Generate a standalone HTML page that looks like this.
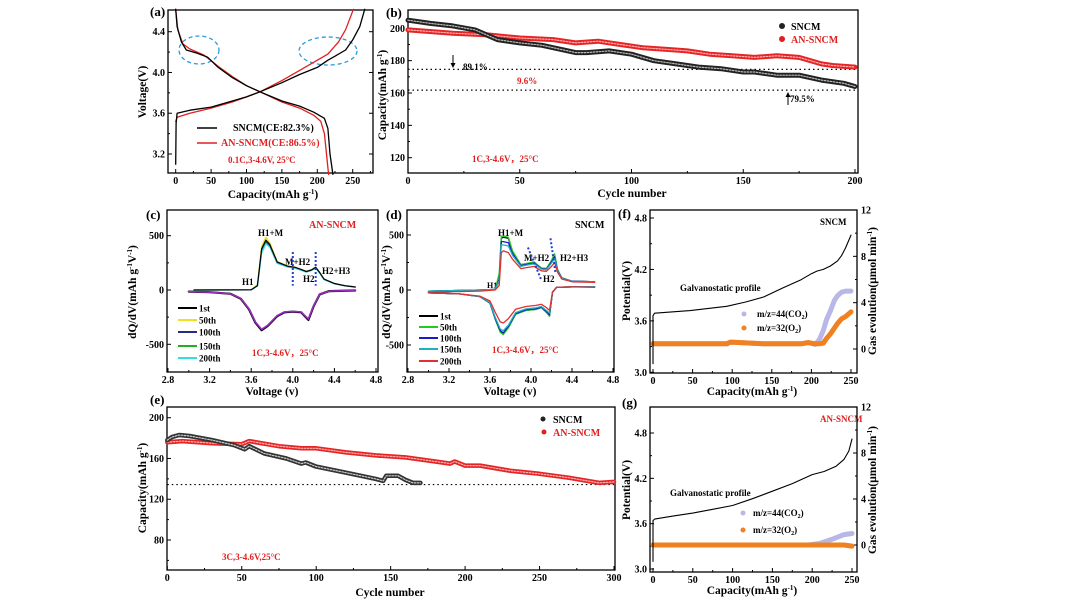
<!DOCTYPE html>
<html><head><meta charset="utf-8"><style>
body{margin:0;background:#fff;}
svg{display:block;font-family:"Liberation Serif",serif;font-weight:bold;}
.t{font-size:10px;}
.ti{font-size:11.5px;}
.lab{font-size:13px;}
</style></head><body>
<svg id="fig" width="1080" height="608" viewBox="0 0 1080 608" xmlns="http://www.w3.org/2000/svg">
<rect width="1080" height="608" fill="#fff"/>
<g>
<text x="150" y="16" class="lab">(a)</text>
<text transform="translate(146,92) rotate(-90)" text-anchor="middle" class="ti">Voltage(V)</text>
<text x="273" y="198" text-anchor="middle" class="ti">Capacity(mAh g<tspan dy="-4" font-size="7">-1</tspan><tspan dy="4">)</tspan></text>
<line x1="197" y1="128" x2="217" y2="128" stroke="#000" stroke-width="1.5"/>
<text x="233" y="131" class="t">SNCM(CE:82.3%)</text>
<line x1="197" y1="143" x2="217" y2="143" stroke="#e02020" stroke-width="1.5"/>
<text x="221" y="146" class="t" fill="#e02020">AN-SNCM(CE:86.5%)</text>
<text x="228" y="163" font-size="9" fill="#e02020">0.1C,3-4.6V, 25°C</text>
<ellipse cx="199" cy="50" rx="20" ry="14" fill="none" stroke="#2a9ad8" stroke-width="1.3" stroke-dasharray="4,3"/>
<ellipse cx="328" cy="51" rx="29" ry="14" fill="none" stroke="#2a9ad8" stroke-width="1.3" stroke-dasharray="4,3"/>
</g>
<g>
<text x="386" y="17" class="lab">(b)</text>
<text transform="translate(386,95) rotate(-90)" text-anchor="middle" class="ti">Capacity(mAh g<tspan dy="-4" font-size="7">-1</tspan><tspan dy="4">)</tspan></text>
<text x="632" y="197" text-anchor="middle" class="ti">Cycle number</text>
<circle cx="782" cy="26" r="3" fill="#222"/>
<text x="791" y="30" class="t">SNCM</text>
<circle cx="782" cy="39" r="3" fill="#e02020"/>
<text x="791" y="43" class="t" fill="#e02020">AN-SNCM</text>
<line x1="453" y1="55" x2="453" y2="67" stroke="#000"/>
<path d="M450.5,63 L453,68 L455.5,63Z" fill="#000"/>
<text x="463" y="70" font-size="9">89.1%</text>
<text x="517" y="84" font-size="9" fill="#e02020">9.6%</text>
<line x1="788" y1="93" x2="788" y2="105" stroke="#000"/>
<path d="M785.5,97 L788,92 L790.5,97Z" fill="#000"/>
<text x="790" y="102" font-size="9">79.5%</text>
<text x="472" y="162" font-size="9" fill="#e02020">1C,3-4.6V，25°C</text>
</g>
<g>
<text x="146" y="219" class="lab">(c)</text>
<text transform="translate(136,292) rotate(-90)" text-anchor="middle" class="ti">dQ/dV(mAh g<tspan dy="-4" font-size="7">-1</tspan><tspan dy="4">V</tspan><tspan dy="-4" font-size="7">-1</tspan><tspan dy="4">)</tspan></text>
<text x="272" y="395" text-anchor="middle" class="ti">Voltage (v)</text>
<text x="309" y="228" class="t" fill="#e02020">AN-SNCM</text>
<text x="258" y="236" font-size="9">H1+M</text>
<text x="285" y="265" font-size="9">M+H2</text>
<text x="303" y="282" font-size="9">H2</text>
<text x="322" y="274" font-size="9">H2+H3</text>
<text x="242" y="285" font-size="9">H1</text>
<text x="252" y="356" font-size="9" fill="#e02020">1C,3-4.6V，25°C</text>
</g>
<g>
<text x="386" y="219" class="lab">(d)</text>
<text transform="translate(390,292) rotate(-90)" text-anchor="middle" class="ti">dQ/dV(mAh g<tspan dy="-4" font-size="7">-1</tspan><tspan dy="4">V</tspan><tspan dy="-4" font-size="7">-1</tspan><tspan dy="4">)</tspan></text>
<text x="510" y="395" text-anchor="middle" class="ti">Voltage (v)</text>
<text x="575" y="228" class="t">SNCM</text>
<text x="498" y="236" font-size="9">H1+M</text>
<text x="524" y="261" font-size="9">M+H2</text>
<text x="560" y="261" font-size="9">H2+H3</text>
<text x="543" y="282" font-size="9">H2</text>
<text x="487" y="288" font-size="8">H1</text>
<text x="492" y="353" font-size="9" fill="#e02020">1C,3-4.6V，25°C</text>
</g>
<g>
<text x="150" y="404" class="lab">(e)</text>
<text transform="translate(146,488) rotate(-90)" text-anchor="middle" class="ti">Capacity(mAh g<tspan dy="-4" font-size="7">-1</tspan><tspan dy="4">)</tspan></text>
<text x="390" y="596" text-anchor="middle" class="ti">Cycle number</text>
<circle cx="543" cy="419" r="2.5" fill="#222"/>
<text x="553" y="423" class="t">SNCM</text>
<circle cx="544" cy="432" r="2.5" fill="#e02020"/>
<text x="553" y="436" class="t" fill="#e02020">AN-SNCM</text>
<text x="222" y="560" font-size="9" fill="#e02020">3C,3-4.6V,25°C</text>
</g>
<g>
<text x="618" y="218" class="lab">(f)</text>
<text transform="translate(630,291) rotate(-90)" text-anchor="middle" class="ti">Potential(V)</text>
<text transform="translate(876,291) rotate(-90)" text-anchor="middle" class="ti">Gas evolution(μmol min<tspan dy="-4" font-size="7">-1</tspan><tspan dy="4">)</tspan></text>
<text x="752" y="395" text-anchor="middle" class="ti">Capacity(mAh g<tspan dy="-4" font-size="7">-1</tspan><tspan dy="4">)</tspan></text>
<text x="820" y="225" font-size="9">SNCM</text>
<text x="680" y="291" font-size="9">Galvanostatic profile</text>
<circle cx="744" cy="314" r="2.5" fill="#b8b8e8"/>
<text x="757" y="317" font-size="9">m/z=44(CO<tspan font-size="6" dy="2">2</tspan><tspan dy="-2">)</tspan></text>
<circle cx="744" cy="328" r="2.5" fill="#f08020"/>
<text x="757" y="331" font-size="9">m/z=32(O<tspan font-size="6" dy="2">2</tspan><tspan dy="-2">)</tspan></text>
</g>
<g>
<text x="622" y="407" class="lab">(g)</text>
<text transform="translate(630,490) rotate(-90)" text-anchor="middle" class="ti">Potential(V)</text>
<text transform="translate(876,490) rotate(-90)" text-anchor="middle" class="ti">Gas evolution(μmol min<tspan dy="-4" font-size="7">-1</tspan><tspan dy="4">)</tspan></text>
<text x="752" y="594" text-anchor="middle" class="ti">Capacity(mAh g<tspan dy="-4" font-size="7">-1</tspan><tspan dy="4">)</tspan></text>
<text x="820" y="422" font-size="9" fill="#e02020">AN-SNCM</text>
<text x="670" y="496" font-size="9">Galvanostatic profile</text>
<circle cx="743" cy="513" r="2.5" fill="#b8b8e8"/>
<text x="753" y="516" font-size="9">m/z=44(CO<tspan font-size="6" dy="2">2</tspan><tspan dy="-2">)</tspan></text>
<circle cx="743" cy="530" r="2.5" fill="#f08020"/>
<text x="753" y="533" font-size="9">m/z=32(O<tspan font-size="6" dy="2">2</tspan><tspan dy="-2">)</tspan></text>
</g>
<g id="plots"></g>
</svg>
<script>
// ---- panel a data ----
const aChargeCap=[0,0.5,2,20,50,80,100,119,150,175,200,215,225,240,250,260,267];
const aChargeSNCM=[3.1,3.5,3.6,3.63,3.66,3.72,3.76,3.81,3.90,3.98,4.05,4.12,4.16,4.22,4.32,4.45,4.62];
const aChargeCapAN=[0,2,20,50,80,100,119,150,175,200,215,230,240,251];
const aChargeAN=[3.52,3.56,3.60,3.65,3.71,3.76,3.81,3.92,4.02,4.12,4.18,4.30,4.42,4.62];
const aDisCap=[0,2,8,15,30,45,60,80,100,119,150,175,195,210,215,218,222];
const aDisSNCM=[4.62,4.45,4.30,4.22,4.19,4.15,4.05,3.95,3.87,3.81,3.72,3.67,3.61,3.55,3.45,3.2,3.0];
const aDisCapAN=[0,3,10,20,40,60,80,100,119,150,175,195,205,210,213,216];
const aDisAN=[4.62,4.42,4.28,4.23,4.17,4.06,3.96,3.87,3.81,3.71,3.65,3.58,3.52,3.4,3.2,3.0];
// ---- panel b data ----
const bCycSNCM=[0,10,20,30,40,50,60,75,80,90,100,110,120,130,140,150,155,165,175,185,195,200];
const bSNCM=[205,203,201.5,199,193,191,189.5,185,185,186,184,180,178,176,175,173,173,171,171,168,166,164];
const bCycAN=[0,20,35,50,65,75,85,95,105,115,125,135,145,155,165,175,185,190,200];
const bAN=[199,197,196,194,193,191,192,190,188,187,186,184,183,182,183,182,178,177,176];
const bRefLines=[174.6,161.8];
// ---- panel c data ----
const cChgV=[3.05,3.6,3.66,3.7,3.74,3.78,3.85,3.95,4.02,4.08,4.13,4.18,4.22,4.26,4.3,4.4,4.5,4.6];
const c1st=[0,2,40,380,460,420,260,220,210,190,170,185,210,160,100,60,40,28];
const c50th=[0,2,50,400,485,430,262,222,212,190,172,188,212,160,100,60,40,28];
const c100th=[0,2,40,370,450,410,255,218,208,188,170,184,208,158,100,60,40,28];
const c150th=[0,2,40,360,440,405,250,215,205,185,168,182,205,156,98,58,40,28];
const c200th=[0,2,38,340,425,395,245,212,202,182,165,180,200,155,96,58,40,28];
const cDisV=[3.0,3.2,3.4,3.5,3.58,3.64,3.7,3.76,3.85,3.92,4.0,4.08,4.15,4.2,4.26,4.35,4.6];
const cDis1st=[-15,-20,-35,-80,-180,-300,-370,-330,-240,-205,-200,-205,-275,-150,-40,-10,-5];
const cDis200th=[-15,-20,-35,-78,-175,-295,-362,-325,-236,-202,-197,-202,-268,-146,-38,-10,-5];
// ---- panel d data ----
const dChgV=[3.0,3.5,3.65,3.69,3.71,3.73,3.78,3.82,3.9,3.97,4.03,4.1,4.15,4.2,4.23,4.26,4.3,4.4,4.62];
const d1st=[-10,0,5,100,470,480,470,350,230,240,250,200,195,260,310,180,110,80,75];
const d50th=[-10,0,5,150,490,490,480,355,232,245,255,200,195,270,330,185,110,80,75];
const d100th=[-10,0,5,90,440,440,430,330,222,235,245,195,190,255,300,175,108,80,75];
const d150th=[-10,0,5,80,410,410,400,315,215,228,238,190,185,245,285,170,105,78,75];
const d200th=[-20,-10,0,40,340,355,340,280,195,205,215,175,170,215,250,160,100,75,70];
const dDisV=[3.0,3.3,3.5,3.6,3.65,3.7,3.73,3.78,3.85,3.95,4.05,4.1,4.15,4.18,4.21,4.25,4.4,4.62];
const dDis1st=[-25,-35,-60,-120,-260,-380,-400,-340,-220,-185,-175,-160,-200,-235,-20,25,28,30];
const dDis50th=[-25,-35,-60,-120,-265,-385,-405,-345,-222,-186,-176,-160,-205,-240,-20,25,28,30];
const dDis100th=[-25,-35,-60,-118,-255,-370,-390,-330,-215,-180,-170,-155,-195,-225,-20,25,28,30];
const dDis150th=[-25,-35,-60,-115,-245,-355,-370,-320,-205,-172,-162,-150,-185,-210,-20,25,28,30];
const dDis200th=[-25,-35,-55,-100,-200,-290,-300,-260,-175,-150,-140,-130,-160,-185,-20,25,28,25];
// ---- panel e data ----
const eCycSNCM=[0,3,8,15,30,45,52,55,65,80,90,93,100,120,140,145,147,155,160,165,170];
const eSNCM=[178,181,183,182,178,173,169,172,165,160,155,156,152,146,140,138,143,143,139,136,136];
const eCycAN=[0,10,30,50,55,75,90,100,120,140,160,180,190,193,200,210,230,250,270,290,300];
const eAN=[176,177,175,174,177,172,170,170,166,163,161,157,155,157,153,153,148,145,141,136,137];
const eRefLine=[134.4];
// ---- panel f data ----
const fCap=[0,0,2,47,93,117,140,163,187,200,207,215,224,233,238,243,250];
const fV=[3.1,3.66,3.69,3.72,3.77,3.82,3.88,3.98,4.08,4.15,4.18,4.20,4.24,4.30,4.36,4.45,4.60];
const fGasCap=[0,47,93,98,140,187,196,205,210,215,219,224,229,233,238,243,250];
const fO2=[0.45,0.45,0.45,0.6,0.45,0.45,0.55,0.45,0.45,0.5,0.9,1.3,1.8,2.2,2.6,2.8,3.2];
const fCO2=[0.45,0.45,0.45,0.6,0.45,0.45,0.55,0.4,0.8,1.6,2.5,3.3,4.2,4.6,4.9,5.0,5.0];
// ---- panel g data ----
const gCap=[0,0,2,25,50,75,100,125,150,175,200,215,230,240,246,250];
const gV=[3.1,3.64,3.66,3.70,3.74,3.79,3.84,3.93,4.03,4.13,4.25,4.29,4.36,4.45,4.56,4.72];
const gGasCap=[0,50,100,150,195,210,225,240,250];
const gO2=[0,0,0,0,0,0,0,0,-0.1];
const gCO2=[0,0,0,0,0,0.15,0.5,0.9,1.0];

const NS="http://www.w3.org/2000/svg";
const root=document.getElementById('plots');
function lin(d0,d1,p0,p1){return v=>p0+(v-d0)*(p1-p0)/(d1-d0);}
function el(tag,attrs,parent){const e=document.createElementNS(NS,tag);for(const k in attrs)e.setAttribute(k,attrs[k]);(parent||root).appendChild(e);return e;}
function line(xs,ys,sx,sy,stroke,w,name,extra){
  const d=xs.map((x,i)=>(i?'L':'M')+sx(x).toFixed(1)+','+sy(ys[i]).toFixed(1)).join(' ');
  const p=el('path',Object.assign({d:d,fill:'none',stroke:stroke,'stroke-width':w,'stroke-linejoin':'round','stroke-linecap':'round'},extra||{}));
  
  
  return p;
}
function frame(x0,y0,x1,y1,name){
  const r=el('rect',{x:x0,y:y0,width:x1-x0,height:y1-y0,fill:'none',stroke:'#000','stroke-width':1.3});
  
  
}
function xTicks(vals,labels,sx,y0,y1,name,minor){
  vals.forEach((v,i)=>{
    const x=sx(v);
    const t=el('line',{x1:x,x2:x,y1:y1,y2:y1-4,stroke:'#000','stroke-width':1});
    
    
    const tx=el('text',{x:x,y:y1+11,'text-anchor':'middle','font-size':'10'});
    tx.textContent=labels[i];
    
    
  });
  (minor||[]).forEach(v=>{const x=sx(v);const t=el('line',{x1:x,x2:x,y1:y1,y2:y1-2,stroke:'#000'});
    
    });
}
function yTicks(vals,labels,sy,x0,name,minor,right){
  vals.forEach((v,i)=>{
    const y=sy(v);
    const t=el('line',{x1:x0,x2:right?x0-4:x0+4,y1:y,y2:y,stroke:'#000'});
    
    
    const tx=el('text',{x:right?x0+4:x0-3,y:y+3.5,'text-anchor':right?'start':'end','font-size':'10'});
    tx.textContent=labels[i];
    
    
  });
  (minor||[]).forEach(v=>{const y=sy(v);const t=el('line',{x1:x0,x2:right?x0-2:x0+2,y1:y,y2:y,stroke:'#000'});
    
    });
}
function markerSeries(xs,ys,sx,sy,c1,c2,w,name){
  line(xs,ys,sx,sy,c1,w,name);
  line(xs,ys,sx,sy,c2,1.2,name+'-highlight',{'stroke-dasharray':'1.5,1.5'});
}

{const sx=lin(0,250,175.7,352.7),sy=lin(3.2,4.4,154,31.7);
frame(168,10,373,173,'a-plot-frame');
xTicks([0,50,100,150,200,250],['0','50','100','150','200','250'],sx,10,173,'a-x-axis',[25,75,125,175,225,275]);
yTicks([3.2,3.6,4.0,4.4],['3.2','3.6','4.0','4.4'],sy,168,'a-y-axis',[3.4,3.8,4.2]);
yTicks([3.2,3.6,4.0,4.4],['','','',''],sy,373,'a-y-axis-right',[],true);
line(aChargeCapAN,aChargeAN,sx,sy,'#e02020',1.3,'a-an-sncm-charge');
line(aDisCapAN,aDisAN,sx,sy,'#e02020',1.3,'a-an-sncm-discharge');
line(aChargeCap,aChargeSNCM,sx,sy,'#000',1.3,'a-sncm-charge');
line(aDisCap,aDisSNCM,sx,sy,'#000',1.3,'a-sncm-discharge');}

{const sx=lin(0,200,408,855),sy=lin(120,200,157.7,28.3);
frame(408,10,858,173,'b-plot-frame');
xTicks([0,50,100,150,200],['0','50','100','150','200'],sx,10,173,'b-x-axis',[25,75,125,175]);
yTicks([120,140,160,180,200],['120','140','160','180','200'],sy,408,'b-y-axis',[130,150,170,190]);
bRefLines.forEach(v=>{const l=el('line',{x1:sx(0),x2:sx(200),y1:sy(v),y2:sy(v),stroke:'#000','stroke-width':1.2,'stroke-dasharray':'1.5,3'});
 
 });
markerSeries(bCycAN,bAN,sx,sy,'#e52525','#ffb0b0',5,'b-an-sncm-series');
markerSeries(bCycSNCM,bSNCM,sx,sy,'#222','#bbb',5,'b-sncm-series');}

{const sx=lin(2.8,4.8,168,376),sy=lin(-500,500,344.3,235.7);
frame(167,210,378,372,'c-plot-frame');
xTicks([2.8,3.2,3.6,4.0,4.4,4.8],['2.8','3.2','3.6','4.0','4.4','4.8'],sx,210,372,'c-x-axis',[3.0,3.4,3.8,4.2,4.6]);
yTicks([-500,0,500],['-500','0','500'],sy,167,'c-y-axis',[-250,250]);
line(cDisV,cDis1st,sx,sy,'#000',2.2,'c-discharge-1st');
line(cDisV,cDis200th,sx,sy,'#9a2ac0',1.6,'c-discharge-200th');
line(cChgV,c150th,sx,sy,'#20b020',1.4,'c-charge-150th');
line(cChgV,c50th,sx,sy,'#f0e020',1.4,'c-charge-50th');
line(cChgV,c200th,sx,sy,'#30e0e0',1.4,'c-charge-200th');
line(cChgV,c100th,sx,sy,'#2a2a80',1.2,'c-charge-100th');
line(cChgV,c1st,sx,sy,'#000',1,'c-charge-1st');
[[4.0,40,350],[4.22,40,350]].forEach(a=>{const l=el('line',{x1:sx(a[0]),x2:sx(a[0]),y1:sy(a[2]),y2:sy(a[1]),stroke:'#2040d0','stroke-width':2,'stroke-dasharray':'2,2'});
 
 });
const cols=['#000','#f0e020','#2a2a80','#20b020','#30e0e0'],labs=['1st','50th','100th','150th','200th'],ly=[308,320,332,346,358];
labs.forEach((t,i)=>{const l=el('line',{x1:178,x2:197,y1:ly[i],y2:ly[i],stroke:cols[i],'stroke-width':2});
 
 
 const tx=el('text',{x:199,y:ly[i]+3.5,'font-size':'9'});tx.textContent=t;
 
 });}

{const sx=lin(2.8,4.8,408,613),sy=lin(-500,500,345,235);
frame(407,210,614,372,'d-plot-frame');
xTicks([2.8,3.2,3.6,4.0,4.4,4.8],['2.8','3.2','3.6','4.0','4.4','4.8'],sx,210,372,'d-x-axis',[3.0,3.4,3.8,4.2,4.6]);
yTicks([-500,0,500],['-500','0','500'],sy,407,'d-y-axis',[-250,250]);
const cols=['#000','#22cc22','#1a1acc','#20b0c0','#e03030'];
const ch=[d1st,d50th,d100th,d150th,d200th],ds=[dDis1st,dDis50th,dDis100th,dDis150th,dDis200th],labs=['1st','50th','100th','150th','200th'];
ch.forEach((s,i)=>line(dChgV,s,sx,sy,cols[i],1.3,'d-charge-'+labs[i]));
ds.forEach((s,i)=>line(dDisV,s,sx,sy,cols[i],1.3,'d-discharge-'+labs[i]));
[[3.97,386,4.10,92],[4.19,470,4.24,150]].forEach(a=>{const l=el('line',{x1:sx(a[0]),x2:sx(a[2]),y1:sy(a[1]),y2:sy(a[3]),stroke:'#2040d0','stroke-width':2,'stroke-dasharray':'2,2'});
 
 });
const ly=[316,327,338,349,361];
labs.forEach((t,i)=>{const l=el('line',{x1:419,x2:438,y1:ly[i],y2:ly[i],stroke:cols[i],'stroke-width':2});
 
 
 const tx=el('text',{x:440,y:ly[i]+3.5,'font-size':'9'});tx.textContent=t;
 
 });}

{const sx=lin(0,300,167.3,614),sy=lin(80,200,540,417.7);
frame(167,407,615,570,'e-plot-frame');
xTicks([0,50,100,150,200,250,300],['0','50','100','150','200','250','300'],sx,407,570,'e-x-axis',[25,75,125,175,225,275]);
yTicks([80,120,160,200],['80','120','160','200'],sy,167,'e-y-axis',[60,100,140,180]);
eRefLine.forEach(v=>{const l=el('line',{x1:sx(0),x2:sx(300),y1:sy(v),y2:sy(v),stroke:'#000','stroke-width':1.2,'stroke-dasharray':'1.5,3'});
 
 });
markerSeries(eCycAN,eAN,sx,sy,'#e52525','#ffb0b0',4.5,'e-an-sncm-series');
markerSeries(eCycSNCM,eSNCM,sx,sy,'#333','#ccc',4.5,'e-sncm-series');}

{const sx=lin(0,250,653,851),sy=lin(3.0,4.8,372.3,218),sy2=lin(0,12,349,210);
frame(650,210,857,373,'f-plot-frame');
xTicks([0,50,100,150,200,250],['0','50','100','150','200','250'],sx,210,373,'f-x-axis',[25,75,125,175,225]);
yTicks([3.0,3.6,4.2,4.8],['3.0','3.6','4.2','4.8'],sy,650,'f-y-axis',[3.3,3.9,4.5]);
yTicks([0,4,8,12],['0','4','8','12'],sy2,857,'f-y2-axis',[2,6,10],true);
line(fGasCap,fCO2,sx,sy2,'#b8b8e8',5,'f-co2-series');
line(fGasCap,fO2,sx,sy2,'#f08020',5,'f-o2-series');
line(fCap,fV,sx,sy,'#000',1.1,'f-galvanostatic-profile');}

{const sx=lin(0,250,653,852),sy=lin(3.0,4.8,569,433),sy2=lin(0,12,545,407);
frame(650,407,857,572,'g-plot-frame');
xTicks([0,50,100,150,200,250],['0','50','100','150','200','250'],sx,407,572,'g-x-axis',[25,75,125,175,225]);
yTicks([3.0,3.6,4.2,4.8],['3.0','3.6','4.2','4.8'],sy,650,'g-y-axis',[3.3,3.9,4.5]);
yTicks([0,4,8,12],['0','4','8','12'],sy2,857,'g-y2-axis',[2,6,10],true);
line(gGasCap,gCO2,sx,sy2,'#b8b8e8',5,'g-co2-series');
line(gGasCap,gO2,sx,sy2,'#f08020',5,'g-o2-series');
line(gCap,gV,sx,sy,'#000',1.1,'g-galvanostatic-profile');}
</script>
</body></html>
